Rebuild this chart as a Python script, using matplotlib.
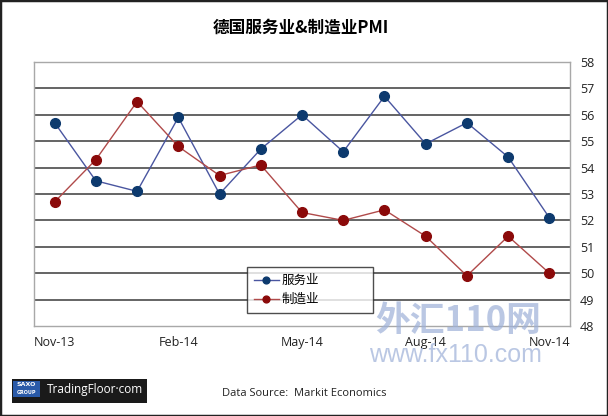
import matplotlib
matplotlib.use("Agg")

import matplotlib.pyplot as plt
from matplotlib.patches import Rectangle

months = ["Nov-13", "Dec-13", "Jan-14", "Feb-14", "Mar-14", "Apr-14", "May-14",
          "Jun-14", "Jul-14", "Aug-14", "Sep-14", "Oct-14", "Nov-14"]
services = [55.7, 53.5, 53.1, 55.9, 53.0, 54.7, 56.0, 54.6, 56.7, 54.9, 55.7, 54.4, 52.1]
manufacturing = [52.7, 54.3, 56.5, 54.8, 53.7, 54.1, 52.3, 52.0, 52.4, 51.4, 49.9, 51.4, 50.0]
tick_months = ["Nov-13", "Feb-14", "May-14", "Aug-14", "Nov-14"]
y_ticks = list(range(48, 59))

cjk = ["Noto Sans CJK SC", "DejaVu Sans"]
latin = ["Open Sans", "DejaVu Sans"]
plt.rcParams["font.family"] = cjk

fig = plt.figure(figsize=(6.08, 4.16), dpi=100)
W, H = 608, 416

def fx(px):
    return px / W

def fy(py):
    return 1 - py / H

ax = fig.add_axes([fx(34), fy(326), fx(570) - fx(34), fy(62) - fy(326)])

x = list(range(len(months)))
ax.plot(x, services, color="#4a56a0", lw=1.0, marker="o", ms=7,
        mfc="#0d3a6e", mec="#0d3a6e", label="服务业", zorder=3)
ax.plot(x, manufacturing, color="#b04a4a", lw=1.0, marker="o", ms=7,
        mfc="#8b0a0a", mec="#8b0a0a", label="制造业", zorder=3)

ax.set_xlim(-0.5, len(months) - 0.5)
ax.set_ylim(48, 58)
ax.set_xticks([months.index(m) for m in tick_months])
ax.set_xticklabels(tick_months, family=latin, fontsize=9, color="#222222")
ax.yaxis.tick_right()
ax.set_yticks(y_ticks)
ax.set_yticklabels([str(v) for v in y_ticks], family=latin, fontsize=9, color="#222222")
ax.tick_params(axis="both", length=0)
ax.tick_params(axis="y", pad=7)
ax.tick_params(axis="x", pad=7)

for v in y_ticks[1:-1]:
    ax.axhline(v, color="#3a3a3a", lw=1.1, zorder=1)
for s in ax.spines.values():
    s.set_color("#a8a8a8")
    s.set_linewidth(1.0)

leg = ax.legend(loc="upper left",
                bbox_to_anchor=(fx(247), fy(317), fx(373) - fx(247), fy(267) - fy(317)),
                bbox_transform=fig.transFigure, mode="expand", frameon=True, fancybox=False,
                edgecolor="#222222", fontsize=9, handlelength=2.0, handletextpad=0.2,
                borderpad=0.55, labelspacing=0.5, markerscale=0.7, borderaxespad=0)
leg.get_frame().set_linewidth(1.0)

fig.text(0.495, fy(28), "德国服务业&制造业PMI", ha="center", va="center",
         fontsize=12, fontweight="bold", family=cjk)

# watermark
fig.text(fx(458), fy(320), "外汇110网", ha="center", va="center", fontsize=25,
         fontweight="bold", style="italic", color="#9db0d8", alpha=0.7, family=cjk)
fig.text(fx(455), fy(355), "www.fx110.com", ha="center", va="center", fontsize=18,
         color="#9db0d8", alpha=0.7, family=["Liberation Sans", "DejaVu Sans"])

# footer
fig.text(fx(304), fy(394), "Data Source:  Markit Economics", ha="center", va="center",
         fontsize=8, color="#222222", family=latin)
fig.patches.append(Rectangle((fx(12), fy(403)), fx(147) - fx(12), fy(379) - fy(403),
                             transform=fig.transFigure, facecolor="#1a1a1a", edgecolor="none"))
fig.patches.append(Rectangle((fx(13), fy(397)), fx(40) - fx(13), fy(381) - fy(397),
                             transform=fig.transFigure, facecolor="#2a5aa8", edgecolor="none"))
fig.text(fx(26.5), fy(385), "SAXO", ha="center", va="center", fontsize=4.5,
         color="white", fontweight="bold", family=["DejaVu Sans"])
fig.text(fx(26.5), fy(393), "GROUP", ha="center", va="center", fontsize=3.5,
         color="white", fontweight="bold", family=["DejaVu Sans"])
fig.text(fx(95), fy(389), "TradingFloor·com", ha="center", va="center", fontsize=8.5,
         color="white", family=latin)

# outer frame
fig.patches.append(Rectangle((0, 0), 1, 1, transform=fig.transFigure,
                             facecolor="none", edgecolor="#222222", lw=2.5))

fig.savefig("out.png", dpi=100)
